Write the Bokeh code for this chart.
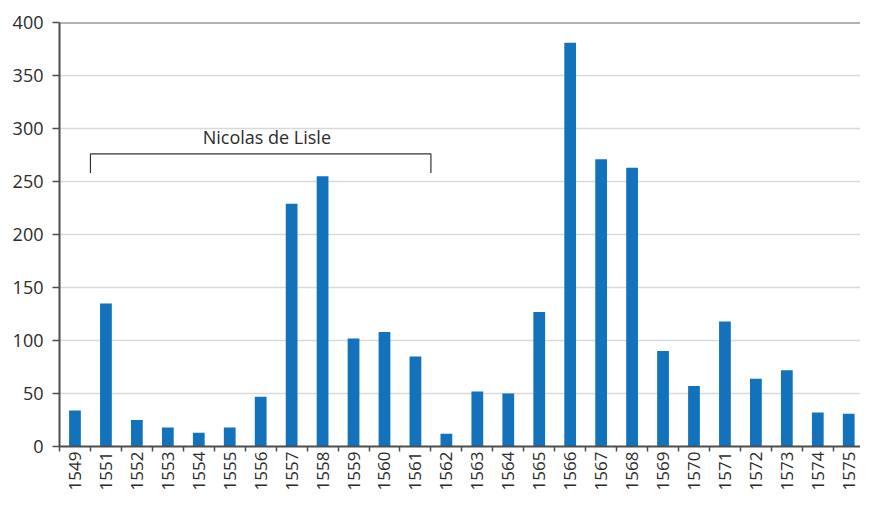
import math
from bokeh.plotting import figure
from bokeh.models import ColumnDataSource, FixedTicker, Span, Range1d, Label
from bokeh.embed import file_html
from bokeh.resources import INLINE

# ---- data ----
years = ["1549", "1551", "1552", "1553", "1554", "1555", "1556", "1557", "1558",
         "1559", "1560", "1561", "1562", "1563", "1564", "1565", "1566", "1567",
         "1568", "1569", "1570", "1571", "1572", "1573", "1574", "1575"]
counts = [34, 135, 25, 18, 13, 18, 47, 229, 255, 102, 108, 85, 12, 52, 50, 127,
          381, 271, 263, 90, 57, 118, 64, 72, 32, 31]
y_ticks = [0, 50, 100, 150, 200, 250, 300, 350, 400]
bracket_label = "Nicolas de Lisle"
bracket_from = "1551"
bracket_to = "1561"
bracket_top = 276
bracket_bottom = 258

FONT = "Open Sans"
AXIS_COLOR = "#4d4d4d"
TEXT_COLOR = "#2b2b2b"

idx = list(range(len(years)))
src = ColumnDataSource(dict(x=idx, top=counts))

p = figure(width=860, height=493, output_backend="svg", toolbar_location=None,
           x_range=Range1d(-0.5, len(years) - 0.62), y_range=Range1d(0, 400),
           min_border_left=59, min_border_right=0, min_border_top=22,
           min_border_bottom=47)
p.outline_line_color = None
p.background_fill_color = "white"
p.border_fill_color = "white"

p.vbar(x="x", top="top", width=0.38, source=src, fill_color="#1272bb",
       line_color=None)

# x axis: labels at centres, tick marks at category boundaries
xt = FixedTicker(ticks=idx, minor_ticks=[i - 0.5 for i in idx] + [len(idx) - 0.5])
p.xaxis.ticker = xt
p.xaxis.major_label_overrides = {i: y for i, y in enumerate(years)}
p.xaxis.major_label_orientation = math.pi / 2
p.xaxis.major_tick_line_color = None
p.xaxis.major_tick_out = 5
p.xaxis.major_tick_in = 0
p.xaxis.minor_tick_line_color = AXIS_COLOR
p.xaxis.minor_tick_line_width = 1.5
p.xaxis.minor_tick_out = 5
p.xaxis.minor_tick_in = 0
p.xaxis.axis_line_color = AXIS_COLOR
p.xaxis.axis_line_width = 2
p.xaxis.major_label_standoff = 0
p.xaxis.major_label_text_font = FONT
p.xaxis.major_label_text_font_size = "17px"
p.xaxis.major_label_text_color = TEXT_COLOR
p.xgrid.grid_line_color = None

# y axis
p.yaxis.ticker = FixedTicker(ticks=y_ticks)
p.yaxis.axis_line_color = AXIS_COLOR
p.yaxis.axis_line_width = 2
p.yaxis.major_tick_line_color = AXIS_COLOR
p.yaxis.major_tick_line_width = 1.5
p.yaxis.major_tick_out = 7
p.yaxis.major_tick_in = 0
p.yaxis.minor_tick_line_color = None
p.yaxis.major_label_standoff = 9
p.yaxis.major_label_text_font = FONT
p.yaxis.major_label_text_font_size = "18px"
p.yaxis.major_label_text_color = TEXT_COLOR
p.ygrid.grid_line_color = "#d9d9d9"
p.ygrid.grid_line_width = 1.5

# top frame line at the maximum
p.add_layout(Span(location=y_ticks[-1], dimension="width", line_color="#666666",
                  line_width=2))

# bracket annotation
x0 = years.index(bracket_from) - 0.5
x1 = years.index(bracket_to) + 0.5
p.line(x=[x0, x0, x1, x1], y=[bracket_bottom, bracket_top, bracket_top, bracket_bottom],
       line_color="#333333", line_width=1.2)
p.add_layout(Label(x=(x0 + x1) / 2 + 0.2, y=bracket_top, text=bracket_label,
                   text_align="center", text_baseline="bottom", y_offset=5,
                   text_font=FONT, text_font_size="18px", text_color=TEXT_COLOR))

open("out.html", "w").write(file_html(p, INLINE))
